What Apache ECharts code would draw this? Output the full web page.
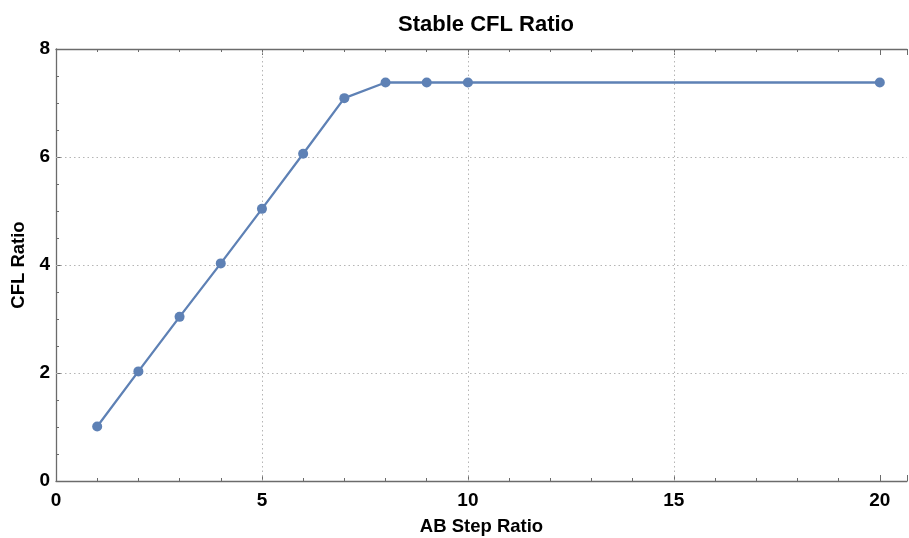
<!DOCTYPE html>
<html>
<head>
<meta charset="utf-8">
<script src="https://cdn.jsdelivr.net/npm/echarts@6/dist/echarts.min.js"></script>
<style>
  html, body { margin: 0; padding: 0; background: #fff; }
  #chart { width: 909px; height: 538px; }
</style>
</head>
<body>
<div id="chart"></div>
<script>
const stepRatio = [1, 2, 3, 4, 5, 6, 7, 8, 9, 10, 20];
const cflRatio = [1.01, 2.03, 3.04, 4.03, 5.04, 6.06, 7.09, 7.38, 7.38, 7.38, 7.38];
const xGridAt = [5, 10, 15];
const yGridAt = [2, 4, 6];

const lineColor = '#5e81b5';
const axisColor = '#6b6b6b';
const font = 'Liberation Sans, Arial, sans-serif';

const chart = echarts.init(document.getElementById('chart'));

const gridLine = { color: '#b5b5b5', width: 1, type: [1.5, 3] };
const nameStyle = { fontFamily: font, fontSize: 18.5, fontWeight: 'bold', color: '#000' };
const labelStyle = { fontFamily: font, fontSize: 19, fontWeight: 'bold', color: '#000' };

chart.setOption({
  animation: false,
  title: {
    text: 'Stable CFL Ratio',
    left: 481, top: 9, textAlign: 'center',
    textStyle: { fontFamily: font, fontSize: 22, fontWeight: 'bold', color: '#000' }
  },
  grid: { left: 56, right: 2, top: 49, bottom: 57, outerBoundsMode: 'none', containLabel: false },
  xAxis: [{
    type: 'value', min: 0, max: 20.66, interval: 5, position: 'bottom',
    name: 'AB Step Ratio', nameLocation: 'middle', nameGap: 36,
    nameTextStyle: nameStyle,
    axisLine: { show: true, lineStyle: { color: axisColor, width: 1.3 } },
    axisTick: { show: true, inside: true, length: 6, lineStyle: { color: axisColor } },
    minorTick: { show: true, splitNumber: 5, length: 3, lineStyle: { color: axisColor } },
    axisLabel: Object.assign({ margin: 10, showMaxLabel: false,
      formatter: v => (v % 5 === 0 ? String(v) : '') }, labelStyle),
    splitLine: { show: false }
  }, {
    type: 'value', min: 0, max: 20.66, interval: 5, position: 'top',
    axisLine: { show: true, lineStyle: { color: axisColor, width: 1.3 } },
    axisTick: { show: true, inside: true, length: 6, lineStyle: { color: axisColor } },
    minorTick: { show: true, splitNumber: 5, length: 3, lineStyle: { color: axisColor } },
    axisLabel: { show: false },
    splitLine: { show: false }
  }],
  yAxis: {
    type: 'value', min: 0, max: 8, interval: 2,
    name: 'CFL Ratio', nameLocation: 'middle', nameGap: 28,
    nameTextStyle: nameStyle,
    axisLine: { show: true, lineStyle: { color: axisColor, width: 1.3 } },
    axisTick: { show: true, inside: true, length: 6, lineStyle: { color: axisColor } },
    minorTick: { show: true, splitNumber: 4, length: 3, lineStyle: { color: axisColor } },
    axisLabel: Object.assign({ margin: 6 }, labelStyle),
    splitLine: { show: false }
  },
  series: [{
    type: 'line',
    data: stepRatio.map((x, i) => [x, cflRatio[i]]),
    symbol: 'circle', symbolSize: 10,
    lineStyle: { color: lineColor, width: 2.3 },
    itemStyle: { color: lineColor },
    z: 5,
    markLine: {
      silent: true, symbol: 'none', label: { show: false },
      lineStyle: gridLine, z: 1,
      data: xGridAt.map(v => ({ xAxis: v })).concat(yGridAt.map(v => ({ yAxis: v })))
    }
  }]
});
</script>
</body>
</html>
